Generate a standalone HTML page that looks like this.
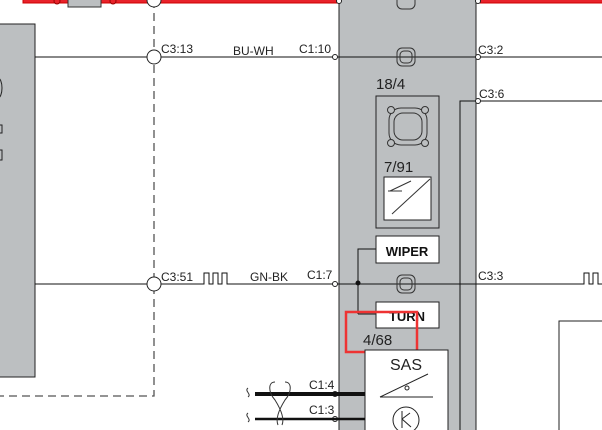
<!DOCTYPE html><html><head><style>body{margin:0;background:#fff}svg{display:block}text{font-family:"Liberation Sans",sans-serif}</style></head><body>
<svg width="602" height="430" viewBox="0 0 602 430" xmlns="http://www.w3.org/2000/svg">
<rect x="23" y="-2" width="580" height="5" fill="#e8222a" stroke="#c00" stroke-width="1"/>
<rect x="68" y="-2" width="33" height="9" fill="#bcbfc1" stroke="#333"/>
<circle cx="57" cy="1" r="3" fill="#e8222a" stroke="#900"/><circle cx="113" cy="1" r="3" fill="#e8222a" stroke="#900"/>
<rect x="-1" y="24" width="36" height="353" fill="#bcbfc1" stroke="#222"/>
<rect x="-3" y="125" width="5" height="8" fill="none" stroke="#222"/><rect x="-3" y="150" width="5" height="10" fill="none" stroke="#222"/>
<path d="M-2 78 A4 10 0 0 1 -2 98" fill="none" stroke="#222"/>
<path d="M154 0 V396 H0" fill="none" stroke="#555" stroke-width="1.3" stroke-dasharray="8,5"/>
<rect x="339" y="-1" width="137" height="432" fill="#bcbfc1" stroke="#222"/>
<line x1="35" y1="57" x2="602" y2="57" stroke="#111"/>
<line x1="35" y1="284" x2="200" y2="284" stroke="#111"/>
<line x1="233" y1="284" x2="580" y2="284" stroke="#111"/>
<path d="M200 284 h4 v-11 h5 v11 h4 v-11 h5 v11 h4 v-11 h5 v11 h6" fill="none" stroke="#111"/>
<path d="M580 284 h4 v-11 h5 v11 h4 v-11 h5 v11 h4" fill="none" stroke="#111"/>
<circle cx="154" cy="0" r="7" fill="#fff" stroke="#222"/>
<circle cx="154" cy="57" r="7" fill="#fff" stroke="#222"/>
<circle cx="154" cy="284" r="7" fill="#fff" stroke="#222"/>
<g font-size="12" fill="#222">
<text x="161" y="53">C3:13</text><text x="233" y="55">BU-WH</text><text x="299" y="53">C1:10</text>
<text x="478" y="54">C3:2</text><text x="479" y="98">C3:6</text>
<text x="161" y="281">C3:51</text><text x="250" y="281">GN-BK</text><text x="307" y="279">C1:7</text>
<text x="478" y="280">C3:3</text><text x="309" y="389">C1:4</text><text x="309" y="414">C1:3</text>
</g>
<path d="M460 430 V101 H602" fill="none" stroke="#111"/>
<circle cx="339" cy="1" r="2.5" fill="#fff" stroke="#222"/><circle cx="478" cy="1" r="2.5" fill="#fff" stroke="#222"/>
<circle cx="335" cy="57" r="2.5" fill="#fff" stroke="#222"/><circle cx="478" cy="57" r="2.5" fill="#fff" stroke="#222"/>
<circle cx="478" cy="101" r="2.5" fill="#fff" stroke="#222"/>
<circle cx="335" cy="284" r="2.5" fill="#fff" stroke="#222"/>
<circle cx="335" cy="394" r="2.5" fill="#fff" stroke="#222"/><circle cx="335" cy="419" r="2.5" fill="#fff" stroke="#222"/>
<g fill="none" stroke="#333">
<rect x="397" y="48" width="18" height="18" rx="5"/><rect x="400" y="51" width="12" height="12" rx="4"/>
<rect x="397" y="275" width="18" height="18" rx="5"/><rect x="400" y="278" width="12" height="12" rx="4"/>
<rect x="397" y="-7" width="18" height="16" rx="5"/>
</g>
<text x="376" y="89" font-size="15" fill="#222">18/4</text>
<rect x="376" y="96" width="63" height="132" fill="#bcbfc1" stroke="#222"/>
<rect x="389" y="108" width="38" height="37" rx="12" fill="none" stroke="#333"/>
<rect x="394" y="113" width="28" height="27" rx="9" fill="none" stroke="#333"/>
<circle cx="391" cy="110" r="3.5" fill="#bcbfc1" stroke="#333"/><circle cx="425" cy="110" r="3.5" fill="#bcbfc1" stroke="#333"/>
<circle cx="391" cy="143" r="3.5" fill="#bcbfc1" stroke="#333"/><circle cx="425" cy="143" r="3.5" fill="#bcbfc1" stroke="#333"/>
<text x="384" y="172" font-size="15" fill="#222">7/91</text>
<rect x="384" y="177" width="47" height="43" fill="#fff" stroke="#222"/>
<line x1="392" y1="214" x2="430" y2="179" stroke="#333"/>
<path d="M388 191 H402 M390 191 L411 181" stroke="#333" fill="none"/>
<path d="M358 314 V249 H376 M358 314 H376" fill="none" stroke="#111"/>
<circle cx="358" cy="283" r="2.5" fill="#111"/>
<rect x="376" y="236" width="63" height="27" fill="#fff" stroke="#222"/>
<text x="407" y="256" font-size="13" font-weight="bold" text-anchor="middle" fill="#111">WIPER</text>
<rect x="376" y="302" width="63" height="26" fill="#fff" stroke="#222"/>
<text x="407" y="321" font-size="13" font-weight="bold" text-anchor="middle" fill="#111">TURN</text>
<rect x="346" y="312" width="71" height="40" fill="none" stroke="#ee3333" stroke-width="2.5"/>
<text x="363" y="345" font-size="15" fill="#222">4/68</text>
<rect x="365" y="350" width="83" height="82" fill="#fff" stroke="#222"/>
<text x="406" y="370" font-size="16" text-anchor="middle" fill="#222">SAS</text>
<path d="M380 397 L428 374 M380 397 H433" stroke="#222" fill="none"/>
<circle cx="407" cy="388" r="2" fill="none" stroke="#222"/>
<circle cx="406" cy="420" r="13" fill="none" stroke="#222"/>
<path d="M402 411 V428 M402 419 L410 413 M402 419 L411 427" stroke="#222" fill="none"/>
<line x1="255" y1="394" x2="365" y2="394" stroke="#111" stroke-width="4"/>
<line x1="255" y1="419" x2="365" y2="419" stroke="#111" stroke-width="2.5"/>
<path d="M275 382 C268 382 268 392 275 400 C280 408 285 418 282 425 M285 382 C292 382 292 392 285 400 C280 408 275 418 278 425" fill="none" stroke="#333"/>
<path d="M248 388 c-4 3 4 6 0 9 M248 413 c-4 3 4 6 0 9" fill="none" stroke="#333"/>
<rect x="559" y="321" width="50" height="115" fill="#fff" stroke="#222"/>
</svg></body></html>
